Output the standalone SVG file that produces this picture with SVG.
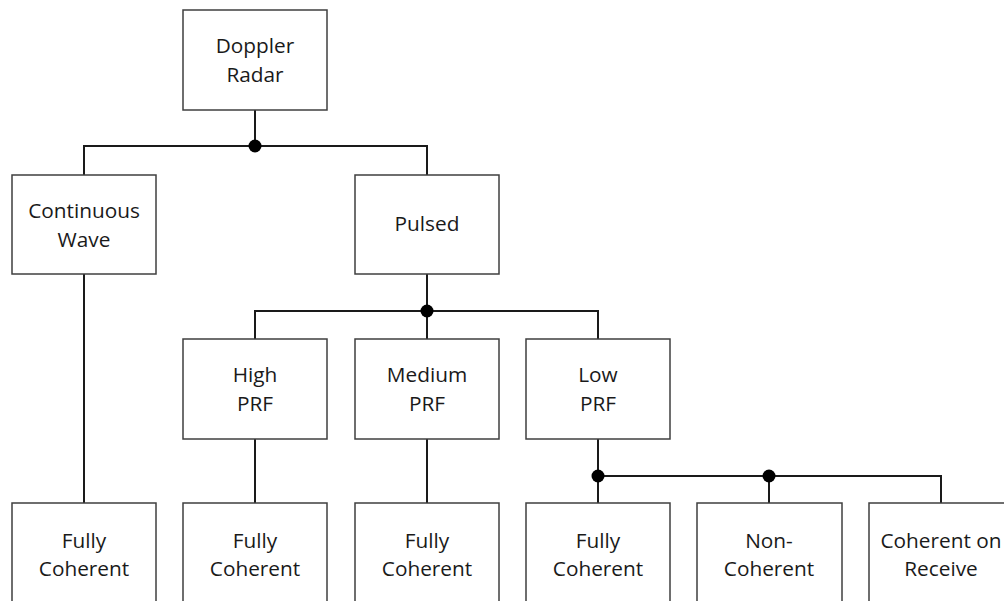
<svg xmlns="http://www.w3.org/2000/svg" width="1004" height="601" viewBox="0 0 1004 601">
  <style>
    .box { fill: #ffffff; stroke: #3f3f3f; stroke-width: 1.5; }
    .lbl { font-family: "Open Sans", "Liberation Sans", sans-serif; font-size: 20.8px; fill: #1a1a1a; text-anchor: middle; }
    .wire { fill: none; stroke: #1a1a1a; stroke-width: 2; }
    .dot { fill: #000000; }
  </style>
  <rect width="1004" height="601" fill="#ffffff"/>

  <g id="connectors">
    <path class="wire" d="M255,110 V146 M84,175 V146 H427 V175"/>
    <path class="wire" d="M84,274 V503"/>
    <path class="wire" d="M427,274 V311 M255,339 V311 H598 V339 M427,311 V339"/>
    <path class="wire" d="M255,439 V503 M427,439 V503"/>
    <path class="wire" d="M598,439 V503 M598,476 H941 V503 M769,476 V503"/>
    <circle class="dot" cx="255" cy="146" r="6.5"/>
    <circle class="dot" cx="427" cy="311" r="6.5"/>
    <circle class="dot" cx="598" cy="476" r="6.5"/>
    <circle class="dot" cx="769" cy="476" r="6.5"/>
  </g>

  <g id="doppler-radar">
    <rect class="box" x="183" y="10" width="144" height="100"/>
    <text class="lbl" x="255" y="53">Doppler</text>
    <text class="lbl" x="255" y="82">Radar</text>
  </g>

  <g id="continuous-wave">
    <rect class="box" x="12" y="175" width="144" height="99"/>
    <text class="lbl" x="84" y="218">Continuous</text>
    <text class="lbl" x="84" y="247">Wave</text>
  </g>

  <g id="pulsed">
    <rect class="box" x="355" y="175" width="144" height="99"/>
    <text class="lbl" x="427" y="231">Pulsed</text>
  </g>

  <g id="high-prf">
    <rect class="box" x="183" y="339" width="144" height="100"/>
    <text class="lbl" x="255" y="382">High</text>
    <text class="lbl" x="255" y="411">PRF</text>
  </g>

  <g id="medium-prf">
    <rect class="box" x="355" y="339" width="144" height="100"/>
    <text class="lbl" x="427" y="382">Medium</text>
    <text class="lbl" x="427" y="411">PRF</text>
  </g>

  <g id="low-prf">
    <rect class="box" x="526" y="339" width="144" height="100"/>
    <text class="lbl" x="598" y="382">Low</text>
    <text class="lbl" x="598" y="411">PRF</text>
  </g>

  <g id="cw-fully-coherent">
    <rect class="box" x="12" y="503" width="144" height="110"/>
    <text class="lbl" x="84" y="548">Fully</text>
    <text class="lbl" x="84" y="576">Coherent</text>
  </g>

  <g id="high-fully-coherent">
    <rect class="box" x="183" y="503" width="144" height="110"/>
    <text class="lbl" x="255" y="548">Fully</text>
    <text class="lbl" x="255" y="576">Coherent</text>
  </g>

  <g id="medium-fully-coherent">
    <rect class="box" x="355" y="503" width="144" height="110"/>
    <text class="lbl" x="427" y="548">Fully</text>
    <text class="lbl" x="427" y="576">Coherent</text>
  </g>

  <g id="low-fully-coherent">
    <rect class="box" x="526" y="503" width="144" height="110"/>
    <text class="lbl" x="598" y="548">Fully</text>
    <text class="lbl" x="598" y="576">Coherent</text>
  </g>

  <g id="non-coherent">
    <rect class="box" x="697" y="503" width="145" height="110"/>
    <text class="lbl" x="769" y="548">Non-</text>
    <text class="lbl" x="769" y="576">Coherent</text>
  </g>

  <g id="coherent-on-receive">
    <rect class="box" x="869" y="503" width="150" height="110"/>
    <text class="lbl" x="941" y="548">Coherent on</text>
    <text class="lbl" x="941" y="576">Receive</text>
  </g>
</svg>
